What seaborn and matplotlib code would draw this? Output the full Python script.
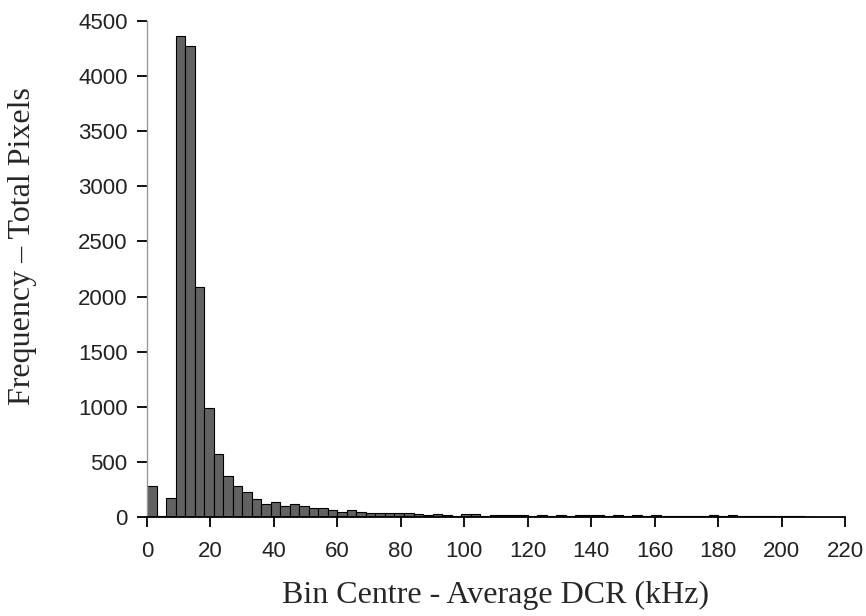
import numpy as np
import pandas as pd
import matplotlib
matplotlib.use('Agg')
import matplotlib.pyplot as plt
import seaborn as sns

# histogram bins, 3 kHz wide
bin_width = 3
bin_left = list(range(0, 210, bin_width))
counts = [280, 5, 168, 4360, 4275, 2085, 988, 570, 368, 285,
          224, 165, 120, 140, 104, 116, 100, 79, 80, 60,
          48, 62, 45, 40, 36, 35, 33, 35, 24, 14,
          30, 16, 12, 27, 26, 12, 16,
          18, 14, 14, 8, 15, 8, 18, 8, 17, 17,
          18, 8, 14, 8, 14, 8, 14, 8, 12, 8,
          8, 8, 20, 8, 16, 6, 6, 5, 5, 7,
          8, 6, 3]
x_ticks = list(range(0, 221, 20))
y_ticks = list(range(0, 4501, 500))

df = pd.DataFrame({'centre': np.array(bin_left) + bin_width / 2, 'count': counts})
edges = list(range(0, 211, bin_width))

sns.set_style('white')
plt.rcParams['font.family'] = ['Liberation Sans', 'DejaVu Sans']

fig = plt.figure(figsize=(8.66, 6.16), dpi=100)
ax = fig.add_axes([147 / 866, 1 - 517 / 616, (845 - 147) / 866, (517 - 21) / 616])

sns.histplot(data=df, x='centre', weights='count', bins=edges, ax=ax,
             color='#626262', edgecolor='black', linewidth=0.8, alpha=1)

ax.set_xlim(0, 220)
ax.set_ylim(0, 4500)
ax.set_xticks(x_ticks)
ax.set_yticks(y_ticks)
ax.tick_params(axis='both', bottom=True, left=True, direction='out', length=7,
               width=1.3, colors='black', labelsize=16, labelcolor='#222222')
ax.tick_params(axis='y', pad=7)
ax.tick_params(axis='x', pad=10)
sns.despine(ax=ax)
ax.spines['left'].set_color('#999999')
ax.spines['left'].set_linewidth(1)
ax.spines['bottom'].set_color('black')
ax.spines['bottom'].set_linewidth(1.3)

serif = ['Liberation Serif', 'DejaVu Serif']
ax.set_xlabel('Bin Centre - Average DCR (kHz)', family=serif, fontsize=23)
ax.set_ylabel('Frequency \u2013 Total Pixels', family=serif, fontsize=23)
ax.xaxis.set_label_coords(0.5, -0.128)
ax.yaxis.set_label_coords(-0.158, 0.546)

fig.savefig('out.png', dpi=100)
